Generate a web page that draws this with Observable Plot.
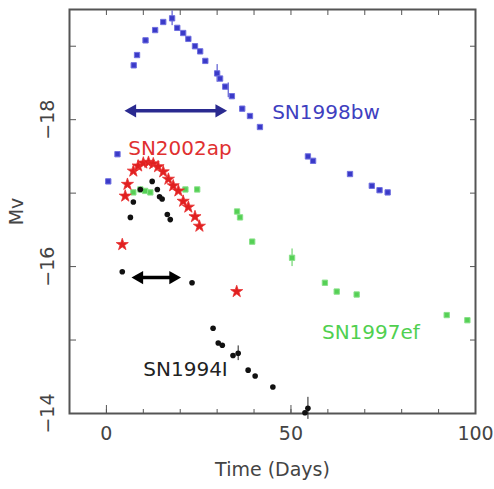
<!DOCTYPE html>
<html><head><meta charset="utf-8">
<script src="https://cdn.jsdelivr.net/npm/d3@7"></script>
<script src="https://cdn.jsdelivr.net/npm/@observablehq/plot@0.6"></script>
<style>body{margin:0;background:#fff} svg{display:block}</style>
</head><body><div id="chart"></div>
<script>
// SN1998bw (blue squares)
const bwDay = [0.5, 3, 7.4, 8.3, 10.6, 13.2, 15.4, 17.8, 19.2, 20.8, 22.2, 24, 25.4, 26.8, 30, 30.8, 32.2, 34, 36.8, 38.9, 41.6, 54.6, 56, 66, 71.9, 74, 76.2];
const bwMag = [-17.16, -17.53, -18.74, -18.88, -19.08, -19.22, -19.33, -19.38, -19.25, -19.18, -19.1, -19.0, -18.93, -18.8, -18.63, -18.56, -18.45, -18.32, -18.15, -18.05, -17.9, -17.5, -17.44, -17.26, -17.1, -17.04, -17.01];
// SN2002ap (red stars)
const apDay = [4.3, 5.1, 5.7, 7.3, 8.6, 10, 11.4, 12.7, 14, 15.4, 16.8, 18.1, 19.5, 20.8, 22.2, 24, 25.2, 35.3];
const apMag = [-16.30, -16.96, -17.12, -17.30, -17.37, -17.41, -17.42, -17.40, -17.36, -17.29, -17.19, -17.10, -17.03, -16.89, -16.81, -16.68, -16.55, -15.66];
// SN1997ef (green squares)
const efDay = [7.3, 9.2, 10.5, 11.9, 21.4, 24.6, 35.4, 36.2, 39.5, 50.3, 59.2, 62.4, 67.8, 92.2, 97.8];
const efMag = [-17.01, -17.05, -17.03, -17.01, -17.05, -17.05, -16.75, -16.67, -16.34, -16.12, -15.78, -15.66, -15.62, -15.34, -15.27];
// SN1994I (black circles)
const iDay = [4.3, 6.5, 7.3, 9.2, 12.4, 13.8, 14.4, 15.1, 16.5, 17.3, 23.2, 28.9, 30.3, 31.4, 34.3, 35.7, 38.4, 40.3, 45.1, 53.8, 54.6];
const iMag = [-15.93, -16.67, -16.88, -17.05, -17.16, -17.05, -16.95, -16.92, -16.71, -16.64, -15.78, -15.16, -14.96, -14.93, -14.79, -14.82, -14.59, -14.51, -14.36, -14.01, -14.07];
// error bars (day, mag, half-width, series color)
const errDay = [17.8, 30, 33, 50.3, 35.7, 54.6];
const errMag = [-19.38, -18.63, -18.40, -16.12, -14.82, -14.07];
const errSize = [0.1, 0.12, 0.1, 0.12, 0.1, 0.15];
const errColor = ["#3a3ac8", "#3a3ac8", "#3a3ac8", "#55cc55", "#222", "#222"];
// width arrows (head centres)
const arrowStart = [7.0, 8.9];
const arrowEnd = [30.6, 18.1];
const arrowMag = [-18.12, -15.85];
const arrowColor = ["#2a2a90", "#000"];
// labels
const labelText = ["SN1998bw", "SN2002ap", "SN1997ef", "SN1994I"];
const labelDay = [44.9, 5.9, 58.4, 10];
const labelMag = [-18.1, -17.6, -15.1, -14.6];
const labelColor = ["#4040c0", "#e03030", "#50d050", "#222"];
// ticks
const xMinorTicks = d3.range(-10, 101, 10);
const xLabelTicks = [0, 50, 100];
const yMinorTicks = [-14, -15, -16, -17, -18, -19];
const yLabelTicks = [-14, -16, -18];

const pts = (d, m) => d.map((x, i) => ({x, y: m[i]}));
const errs = errDay.map((x, i) => ({x, y1: errMag[i] - errSize[i], y2: errMag[i] + errSize[i], c: errColor[i]}));
const arrows = arrowStart.map((a, i) => ({a, b: arrowEnd[i], y: arrowMag[i], c: arrowColor[i]}));
const heads = arrows.flatMap(d => [{x: d.a, y: d.y, c: d.c, r: -90}, {x: d.b, y: d.y, c: d.c, r: 90}]);
const labels = labelText.map((t, i) => ({t, x: labelDay[i], y: labelMag[i], c: labelColor[i]}));
const minus = d => "\u2212" + Math.abs(d);

const chart = Plot.plot({
  width: 494, height: 489,
  marginLeft: 69, marginRight: 19, marginTop: 9, marginBottom: 76,
  style: {fontFamily: "DejaVu Sans", fontSize: "19px", color: "#444", background: "#fff"},
  x: {domain: [-10, 100]},
  y: {domain: [-14, -19.5]},
  marks: [
    Plot.axisX({anchor: "bottom", ticks: xMinorTicks, tickSize: -4, tickFormat: () => "", label: null, stroke: "#555"}),
    Plot.axisX({anchor: "bottom", ticks: xLabelTicks, tickSize: -8, tickFormat: () => "", label: null, stroke: "#555"}),
    Plot.axisX({anchor: "top", ticks: xMinorTicks, tickSize: -5, tickFormat: () => "", label: null, stroke: "#555"}),
    Plot.axisX({anchor: "bottom", ticks: xLabelTicks, tickSize: 0, tickPadding: 13, tickFormat: d => String(d), label: "Time (Days)", labelAnchor: "center", labelArrow: "none", labelOffset: 62, fill: "#444"}),
    Plot.axisY({anchor: "left", ticks: yMinorTicks, tickSize: -7, tickFormat: () => "", label: null, stroke: "#555"}),
    Plot.axisY({anchor: "right", ticks: yMinorTicks, tickSize: -6, tickFormat: () => "", label: null, stroke: "#555"}),
    Plot.axisY({anchor: "left", ticks: yLabelTicks, tickSize: 0, tickPadding: 16, tickRotate: -90, tickFormat: minus, label: "Mv", labelAnchor: "center", labelArrow: "none", labelOffset: 60, fill: "#444"}),
    Plot.frame({stroke: "#555", strokeWidth: 2}),
    Plot.ruleX(errs, {x: "x", y1: "y1", y2: "y2", stroke: "c", strokeWidth: 1}),
    Plot.dot(pts(efDay, efMag), {x: "x", y: "y", symbol: "square", r: 3, fill: "#55d055", stroke: "#88e088", strokeWidth: 1}),
    Plot.dot(pts(bwDay, bwMag), {x: "x", y: "y", symbol: "square", r: 3, fill: "#3a3ac8", stroke: "#7070e0", strokeWidth: 1}),
    Plot.dot(pts(apDay, apMag), {x: "x", y: "y", symbol: "star", r: 3.8, fill: "#e02020", stroke: "#e83030", strokeWidth: 0.8}),
    Plot.dot(pts(iDay, iMag), {x: "x", y: "y", symbol: "circle", r: 2.8, fill: "#111"}),
    Plot.link(arrows, {x1: "a", x2: "b", y1: "y", y2: "y", stroke: "c", strokeWidth: 3.5}),
    Plot.dot(heads, {x: "x", y: "y", symbol: "triangle", r: 5, fill: "c", rotate: "r"}),
    Plot.text(labels, {x: "x", y: "y", text: "t", fill: "c", textAnchor: "start", fontSize: 20})
  ]
});
document.getElementById("chart").append(chart);
</script></body></html>
